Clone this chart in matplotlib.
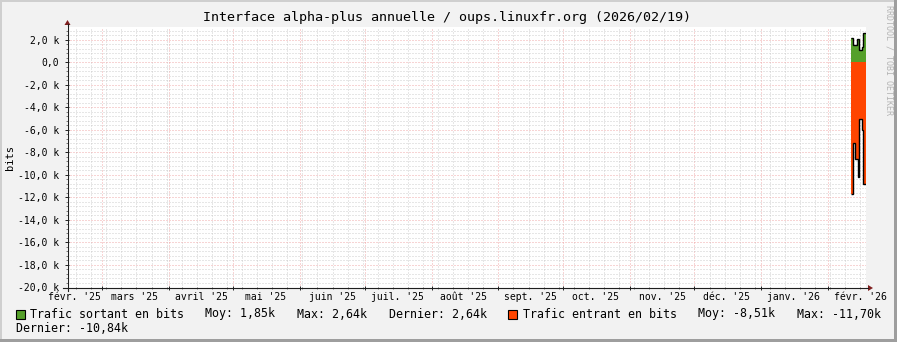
# Graphique annuel d'interface façon rrdtool
import matplotlib
matplotlib.use('Agg')
from matplotlib import pyplot as plt
from matplotlib.patches import Rectangle, Polygon
from matplotlib.lines import Line2D
from matplotlib.transforms import Affine2D, blended_transform_factory
from matplotlib.ticker import FuncFormatter, MultipleLocator, FixedLocator
import matplotlib.dates as mdates
import pandas as pd

plt.rcParams['font.family'] = 'DejaVu Sans Mono'
plt.rcParams['lines.scale_dashes'] = False

# --- données ---
title = "Interface alpha-plus annuelle / oups.linuxfr.org (2026/02/19)"
t_start = '2025-02-12 18:00'
t_end = '2026-02-18 15:20'

month_labels = ["févr. '25", "mars '25", "avril '25", "mai '25", "juin '25",
                "juil. '25", "août '25", "sept. '25", "oct. '25", "nov. '25",
                "déc. '25", "janv. '26", "févr. '26"]

# trafic sortant (positif) : bornes des paliers et valeurs
sortant_edges = ['2026-02-11 16:00', '2026-02-12 14:00', '2026-02-14 11:00',
                 '2026-02-15 09:00', '2026-02-16 19:00', '2026-02-17 06:00',
                 '2026-02-18 15:20']
sortant = [2200, 1530, 2100, 1060, 1400, 2640]

# trafic entrant (négatif)
entrant_edges = ['2026-02-11 16:00', '2026-02-12 11:00', '2026-02-13 16:00',
                 '2026-02-14 22:00', '2026-02-15 13:00', '2026-02-16 19:00',
                 '2026-02-17 09:00', '2026-02-18 15:20']
entrant = [-11700, -7200, -8600, -10200, -5070, -6000, -10840]

series_names = ['Trafic sortant en bits', 'Trafic entrant en bits']
moy = ['1,85k', '-8,51k']
maxi = ['2,64k', '-11,70k']
dernier = ['2,64k', '-10,84k']

green = '#55a02a'
red = '#ff4500'

# --- figure ---
W, H = 897, 342
fig = plt.figure(figsize=(W / 100, H / 100), dpi=100)
fig.patch.set_facecolor('#f2f2f2')
px = Affine2D().scale(1 / W, -1 / H).translate(0, 1) + fig.transFigure

# cadre ombré
for (x, y, w, h, c) in [(0, 0, W, 2, '#cfcfcf'), (0, 0, 2, H, '#cfcfcf'),
                        (0, H - 3, W, 3, '#9e9e9e'), (W - 3, 0, 3, H, '#9e9e9e')]:
    fig.add_artist(Rectangle((x, y), w, h, transform=px, color=c, lw=0))

left, right, top, bottom = 67, 866, 27, 287.5
ax = fig.add_axes([left / W, 1 - bottom / H, (right - left) / W, (bottom - top) / H])
ax.set_facecolor('white')
ax.set_xlim(mdates.date2num(pd.Timestamp(t_start)), mdates.date2num(pd.Timestamp(t_end)))
ax.set_ylim(-20000, 3140)
for s in ax.spines.values():
    s.set_visible(False)

# grille
month_starts = pd.date_range('2025-03-01', '2026-02-01', freq='MS')
weeks = pd.date_range('2025-02-13', '2026-02-18', freq='W-MON')
ax.xaxis.set_major_locator(FixedLocator(mdates.date2num(month_starts)))
ax.xaxis.set_minor_locator(FixedLocator(mdates.date2num(weeks)))
ax.yaxis.set_major_locator(MultipleLocator(2000))
ax.yaxis.set_minor_locator(MultipleLocator(400))
ax.set_axisbelow(True)
ax.grid(which='minor', color='#c4c4c4', lw=0.6, linestyle=(0, (0.72, 1.44)))
ax.grid(which='major', color='#ee9a9a', lw=0.6, linestyle=(0, (0.72, 1.44)))

ax.tick_params(which='major', direction='inout', length=2.9, width=0.7, color='#1f1f1f')
ax.tick_params(which='minor', direction='inout', length=1.4, width=0.5, color='#555555')
ax.tick_params(axis='x', labelbottom=False)
ax.tick_params(axis='y', labelsize=7, pad=4)


def fmt(v, pos):
    if v == 0:
        return '0,0'
    return ('%.1f k' % (v / 1000)).replace('.', ',')


ax.yaxis.set_major_formatter(FuncFormatter(fmt))

# étiquettes des mois, au milieu du mois
label_dates = [pd.Timestamp('2025-02-16')] + list(month_starts + pd.Timedelta(days=15))
xt = blended_transform_factory(ax.transData, px)
for d, lab in zip(label_dates, month_labels):
    ax.text(mdates.date2num(d), 297, lab, transform=xt, ha='center', va='center',
            fontsize=7, clip_on=False)

# données
es = mdates.date2num(pd.to_datetime(sortant_edges))
ee = mdates.date2num(pd.to_datetime(entrant_edges))
ax.stairs(sortant, es, baseline=0, fill=True, color=green, lw=0, zorder=3)
ax.stairs(entrant, ee, baseline=0, fill=True, color=red, lw=0, zorder=3)
ax.stairs(sortant, es, baseline=None, color='black', lw=1.0, zorder=4)
ax.stairs(entrant, ee, baseline=None, color='black', lw=1.0, zorder=4)

# axes avec flèches
axis_c = '#1f1f1f'
arrow_c = '#801f1f'
fig.add_artist(Line2D([67.5, 67.5], [291, 24], transform=px, color=axis_c, lw=0.8))
fig.add_artist(Polygon([[64.5, 25], [70.5, 25], [67.5, 20]], transform=px, color=arrow_c, lw=0))
fig.add_artist(Line2D([63, 868], [288, 288], transform=px, color=axis_c, lw=0.8))
fig.add_artist(Polygon([[868, 285], [868, 291], [873, 288]], transform=px, color=arrow_c, lw=0))

# textes
fig.text(447, 18, title, transform=px, ha='center', va='center', fontsize=9.6)
fig.text(10, 157, 'bits', transform=px, rotation=90, ha='center', va='center', fontsize=7.5)
fig.text(889, 60, 'RRDTOOL / TOBI OETIKER', transform=px, rotation=270,
         ha='center', va='center', fontsize=6, color='#b4b4b4')

# légende
ly = 314
for sq_x, c in [(16, green), (508, red)]:
    fig.add_artist(Rectangle((sq_x, ly - 4.5), 9, 9, transform=px, facecolor=c,
                             edgecolor='black', lw=0.8))
leg_items = [(30, series_names[0]), (205, 'Moy: ' + moy[0]), (297, 'Max: ' + maxi[0]),
             (389, 'Dernier: ' + dernier[0]), (523, series_names[1]),
             (698, 'Moy: ' + moy[1]), (797, 'Max: ' + maxi[1])]
for x, s in leg_items:
    fig.text(x, ly, s, transform=px, ha='left', va='center', fontsize=8.4)
fig.text(16, 328, 'Dernier: ' + dernier[1], transform=px, ha='left', va='center', fontsize=8.4)

fig.savefig('out.png', dpi=100, facecolor=fig.get_facecolor())
